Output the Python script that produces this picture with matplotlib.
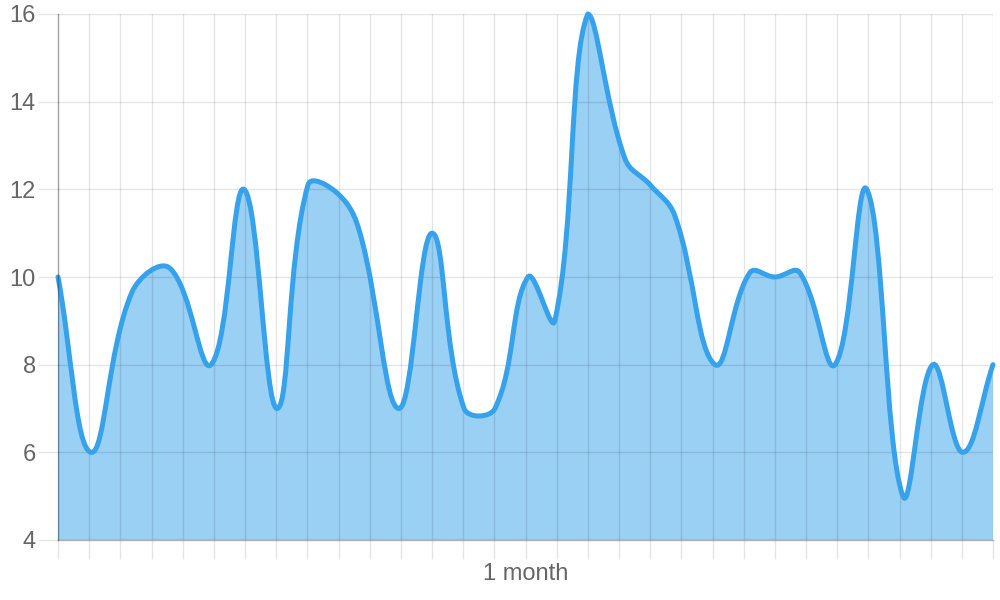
import numpy as np
import matplotlib.pyplot as plt
from matplotlib.path import Path
from matplotlib.patches import PathPatch

# data: day offset within the month and value
days = [0, 1.06, 2.37, 3.59, 4.91, 5.97, 7.03, 8.02, 8.98, 9.69,
        10.94, 12.0, 13.03, 14.02, 15.08, 15.94, 17.0, 18.19, 19.0, 19.79,
        21.08, 22.2, 23.0, 23.8, 24.93, 25.95, 27.11, 28.07, 29.03, 30]
values = [10, 6, 9.65, 10.2, 8, 12, 7, 12.1, 11.9, 11,
          7, 11, 7, 7, 10, 9, 16, 12.7, 12.1, 11.4,
          8, 10.1, 10, 10.1, 8, 12, 5, 8, 6, 8]
y_ticks = [4, 6, 8, 10, 12, 14, 16]
x_ticks = list(range(31))
x_label_day = 15
x_label = "1 month"

line_color = "#36A2EB"
fill_color = (54/255, 162/255, 235/255, 0.5)
grid_color = (0, 0, 0, 0.1)
text_color = "#666666"
tension = 0.4

plt.rcParams['font.family'] = ['Liberation Sans', 'DejaVu Sans']

fig = plt.figure(figsize=(10, 6), dpi=100)
ax = fig.add_axes([0.058, 0.1, 0.935, 526/600])
ax.set_xlim(0, 30)
ax.set_ylim(4, 16)

# chart.js style bezier control points, computed in pixel space
pts = ax.transData.transform(np.column_stack([days, values]))
n = len(pts)
cp_prev = np.zeros_like(pts)
cp_next = np.zeros_like(pts)
for i in range(n):
    prev = pts[max(i - 1, 0)]
    cur = pts[i]
    nxt = pts[min(i + 1, n - 1)]
    d01 = np.hypot(*(cur - prev))
    d12 = np.hypot(*(nxt - cur))
    tot = d01 + d12
    s01 = d01 / tot if tot else 0
    s12 = d12 / tot if tot else 0
    cp_prev[i] = cur - tension * s01 * (nxt - prev)
    cp_next[i] = cur + tension * s12 * (nxt - prev)

x0, y0, x1, y1 = ax.bbox.extents
for cp in (cp_prev, cp_next):
    cp[:, 0] = np.clip(cp[:, 0], x0, x1)
    cp[:, 1] = np.clip(cp[:, 1], y0, y1)

inv = ax.transData.inverted()
pts_d = inv.transform(pts)
cprev_d = inv.transform(cp_prev)
cnext_d = inv.transform(cp_next)

verts = [pts_d[0]]
codes = [Path.MOVETO]
for i in range(n - 1):
    verts += [cnext_d[i], cprev_d[i + 1], pts_d[i + 1]]
    codes += [Path.CURVE4] * 3

fill_verts = verts + [(days[-1], 4), (days[0], 4), (days[0], 4)]
fill_codes = codes + [Path.LINETO, Path.LINETO, Path.CLOSEPOLY]

ax.add_patch(PathPatch(Path(fill_verts, fill_codes), facecolor=fill_color,
                       edgecolor='none', zorder=2))
ax.add_patch(PathPatch(Path(verts, codes), facecolor='none', edgecolor=line_color,
                       lw=3.6, joinstyle='round', capstyle='round', zorder=3,
                       clip_on=False))

# axes styling
ax.set_yticks(y_ticks)
ax.set_xticks(x_ticks)
labels = [''] * len(x_ticks)
labels[x_ticks.index(x_label_day)] = x_label
ax.set_xticklabels(labels)
ax.grid(True, color='black', alpha=0.1, lw=1.0, zorder=2.5)
ax.set_axisbelow(False)
ax.tick_params(axis='x', length=13.5, width=1.0, color=grid_color,
               labelsize=17, labelcolor=text_color, pad=3)
ax.tick_params(axis='y', length=14.5, width=1.0, color=grid_color,
               labelsize=17, labelcolor=text_color, pad=1.5)
for s in ('top', 'right'):
    ax.spines[s].set_visible(False)
for s in ('left', 'bottom'):
    ax.spines[s].set_color((0, 0, 0, 0.3))
    ax.spines[s].set_linewidth(1.0)
    ax.spines[s].set_zorder(4)

fig.savefig("out.png", dpi=100)
